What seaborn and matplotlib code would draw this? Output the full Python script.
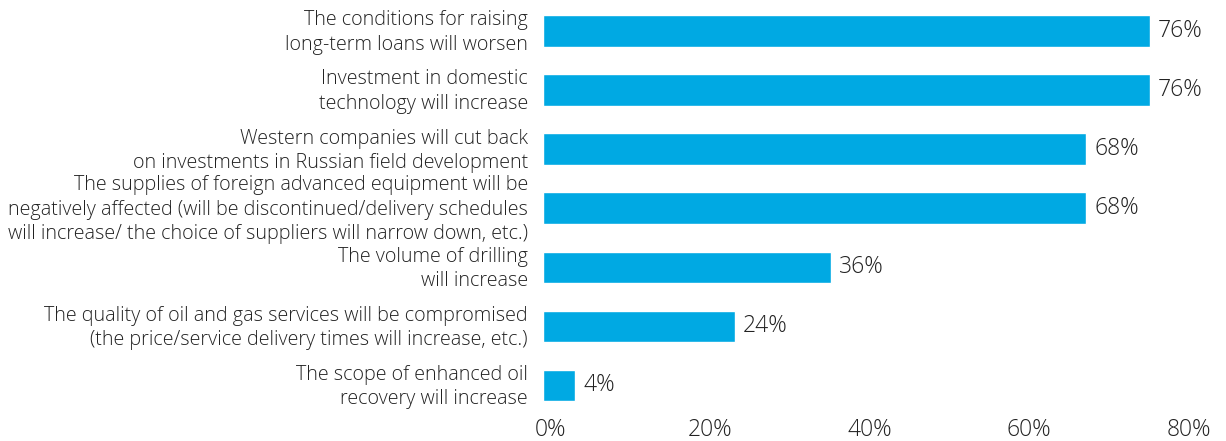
import matplotlib
matplotlib.use("Agg")
import matplotlib.pyplot as plt
import matplotlib.transforms as mtransforms
import seaborn as sns
import pandas as pd

categories = [
    "The conditions for raising\nlong-term loans will worsen",
    "Investment in domestic\ntechnology will increase",
    "Western companies will cut back\non investments in Russian field development",
    "The supplies of foreign advanced equipment will be\nnegatively affected (will be discontinued/delivery schedules\nwill increase/ the choice of suppliers will narrow down, etc.)",
    "The volume of drilling\nwill increase",
    "The quality of oil and gas services will be compromised\n(the price/service delivery times will increase, etc.)",
    "The scope of enhanced oil\nrecovery will increase",
]
values = [76, 76, 68, 68, 36, 24, 4]
tick_values = [0, 20, 40, 60, 80]
tick_labels = ["0%", "20%", "40%", "60%", "80%"]

sns.set_theme(style="white")
plt.rcParams["font.family"] = ["Open Sans", "DejaVu Sans"]
plt.rcParams["font.weight"] = "light"

text_color = "#222222"
df = pd.DataFrame({"label": categories, "value": values})

fig = plt.figure(figsize=(12.26, 4.41), dpi=100)
ax = fig.add_axes([0.443, 0.059, 0.521, 0.938])

sns.barplot(data=df, x="value", y="label", color="#00A9E3", saturation=1,
            width=0.53, ax=ax, orient="h")

for i, v in enumerate(values):
    ax.text(v + 1.0, i, f"{v}%", va="center", ha="left", fontsize=16.5,
            color=text_color, fontweight="light")

ax.set_xlim(0, 80)
ax.set_xticks(tick_values)
ax.set_xticklabels(tick_labels, fontsize=16.5, color=text_color,
                   fontweight="light")
ax.tick_params(axis="y", labelsize=14.2, colors=text_color, length=0, pad=11)
ax.tick_params(axis="x", length=0, pad=2)
for lbl in ax.get_yticklabels():
    lbl.set_horizontalalignment("right")
    lbl.set_multialignment("right")
    lbl.set_linespacing(1.3)
    lbl.set_fontweight("light")

# nudge the tick labels: percentages slightly right, categories slightly up
x_shift = mtransforms.ScaledTranslation(7 / 100, 0, fig.dpi_scale_trans)
for tick in ax.xaxis.get_major_ticks():
    tick.label1.set_transform(tick.label1.get_transform() + x_shift)
y_shift = mtransforms.ScaledTranslation(0, 3 / 100, fig.dpi_scale_trans)
for tick in ax.yaxis.get_major_ticks():
    tick.label1.set_transform(tick.label1.get_transform() + y_shift)

ax.set_xlabel("")
ax.set_ylabel("")
sns.despine(ax=ax, left=True, bottom=True)

fig.savefig("out.png", dpi=100)
